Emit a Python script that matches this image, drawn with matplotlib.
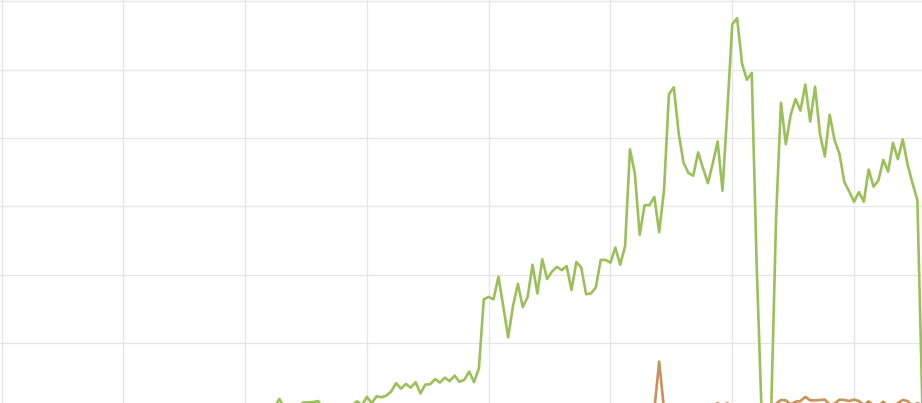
import numpy as np
import matplotlib
matplotlib.use('Agg')
import matplotlib.pyplot as plt

# series values (index = period number)
green_start = 56
green_vals = [
    0.5, 1.9, 0.8, 0.8, 0.5, 1.0, 1.4, 1.4, 1.45, 1.6,
    0.5, 0.3, 0.6, 0.4, 0.8, 0.5, 1.0, 1.55, 1.0, 2.2,
    1.3, 2.3, 2.15, 2.4, 3.0, 4.2, 3.4, 4.1, 3.55, 4.35,
    2.7, 4.0, 4.05, 4.8, 4.3, 5.0, 4.5, 5.3, 4.4, 4.7,
    5.9, 4.35, 6.4, 16.45, 16.8, 16.45, 19.75, 15.4, 10.9, 15.5,
    18.7, 15.3, 16.8, 21.5, 17.3, 22.3, 19.4, 20.5, 21.2, 20.7,
    21.3, 17.8, 21.9, 21.1, 17.2, 17.3, 18.2, 22.2, 22.2, 21.8,
    24.0, 21.5, 24.2, 38.35, 34.85, 25.85, 30.2, 30.2, 31.4, 26.25,
    32.4, 46.4, 47.4, 40.7, 36.4, 34.9, 34.5, 37.9, 35.6, 33.4,
    36.3, 39.5, 32.3, 44.1, 56.6, 57.5, 50.9, 48.5, 49.5, 21.75,
    0.5, 0.3, 0.5, 28.3, 45.15, 39.1, 43.4, 45.7, 44.0, 47.8,
    42.4, 47.5, 40.6, 37.3, 43.4, 39.7, 37.7, 33.6, 32.2, 30.7,
    32.1, 30.7, 35.4, 32.9, 33.8, 36.8, 35.1, 39.3, 36.9, 39.8,
    36.1, 33.4, 30.95, 1.5,
]
orange_start = 128
orange_vals = [
    0.3, 0.2, 0.5, 0.3, 0.4, 0.2, 0.3, 7.35, 0.3, 0.4,
    0.2, 0.5, 0.3, 0.6, 0.4, 0.3, 0.5, 0.4, 0.9, 1.3,
    0.8, 1.3, 0.7, 0.5, 0.6, 0.4, 0.5, 0.3, 0.6, 0.8,
    1.0, 1.2, 1.75, 1.7, 1.1, 1.5, 1.6, 2.2, 1.7, 1.7,
    1.75, 1.8, 1.1, 1.2, 1.8, 1.75, 1.6, 1.8, 1.6, 1.0,
    1.55, 1.0, 0.9, 1.5, 0.8, 0.8, 1.3, 1.75, 1.6, 0.8,
    1.3, 1.0,
]

x_grid = [0, 25, 50, 75, 100, 125, 150, 175]
y_grid = [10, 20, 30, 40, 50, 60]

fig = plt.figure(figsize=(9.22, 4.03), dpi=100)
ax = fig.add_axes([0, 0, 1, 1])

# Gridlines Only, No Labels
ax.set_xticks(x_grid)
ax.set_yticks(y_grid)
ax.grid(True, color='#e6e6e6', linewidth=1.0)
ax.set_axisbelow(True)
ax.tick_params(length=0, labelbottom=False, labelleft=False)
for s in ax.spines.values():
    s.set_visible(False)

green_x = np.arange(green_start, green_start + len(green_vals))
orange_x = np.arange(orange_start, orange_start + len(orange_vals))
ax.plot(orange_x, orange_vals, color='#c8925a', linewidth=1.9)
ax.plot(green_x, green_vals, color='#9bc05a', linewidth=1.9)

ax.set_xlim(-0.31, 188.95)
ax.set_ylim(1.31, 60.15)

fig.savefig('out.png', dpi=100)
plt.close()
